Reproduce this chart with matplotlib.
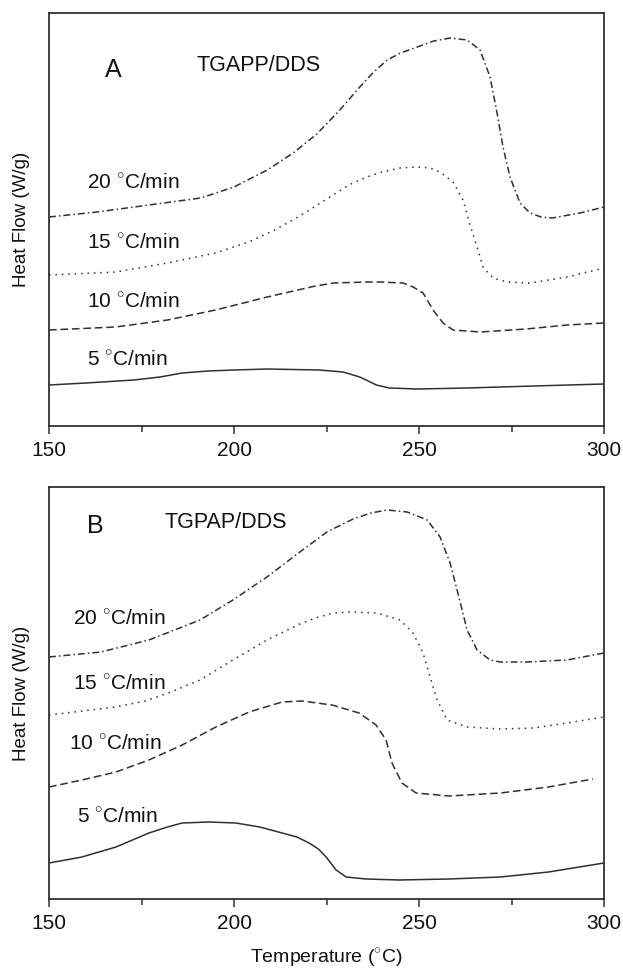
import matplotlib.pyplot as plt

plt.rcParams['font.family'] = ['Liberation Sans', 'DejaVu Sans']
plt.rcParams['mathtext.fontset'] = 'custom'
plt.rcParams['mathtext.rm'] = 'Liberation Sans'

# ---- panel A : TGAPP/DDS  (heat flow in arbitrary units)
a20_T = [150, 163, 177, 191, 200, 209, 216, 222.4, 228.6, 234, 237.5, 241.4, 245, 249.5, 254, 258.4, 263, 266.5, 269.2, 271.1, 272.7, 274.6, 277.3, 280, 283, 286, 293.5, 300]
a20_H = [209, 214, 221, 228, 239, 256, 273, 292, 316, 339, 353, 366, 373, 379, 385, 388, 386, 376, 349, 313, 279, 249, 223, 213, 209, 208, 213, 219]

a15_T = [150, 168, 182, 195, 204, 211, 217.8, 226.8, 231, 235.9, 240, 244.9, 249.5, 253, 255.7, 259.2, 261.9, 263.8, 265.7, 267.3, 270, 273.8, 280, 290, 300]
a15_H = [151, 154, 163, 173, 184, 196, 210, 231, 241, 249, 254, 258, 259, 258, 254, 244, 226, 201, 179, 159, 148, 144, 143, 149, 158]

a10_T = [150, 168, 182, 195, 209, 222, 227, 236, 239.5, 245.7, 248.4, 251.1, 253.8, 256.5, 259.2, 266.5, 279, 290, 300]
a10_H = [96, 99, 106, 116, 129, 140, 143, 144, 144, 143, 139, 133, 116, 103, 96, 94, 97, 101, 103]

a5_T = [150, 160, 173, 180, 186, 193, 200, 209, 223, 229.5, 234, 238.5, 242, 249.5, 263, 281, 300]
a5_H = [41, 43, 46, 49, 53, 55, 56, 57, 56, 54, 49, 41, 38, 37, 38, 40, 42]

# ---- panel B : TGPAP/DDS
b20_T = [150, 164, 177, 190.8, 199.7, 208.9, 217.8, 225.1, 232.2, 237, 241.4, 246.8, 252.2, 255.7, 258.4, 260.3, 263, 265.7, 269.2, 272, 279, 290, 300]
b20_H = [242, 247, 259, 279, 299, 322, 347, 367, 380, 386, 389, 387, 379, 362, 336, 309, 269, 249, 239, 237, 237, 239, 246]

b15_T = [150, 168, 176, 183, 190.8, 199.7, 208.9, 217.8, 222, 226.8, 231.4, 238.6, 244.9, 248.4, 251.1, 253, 254.9, 257.6, 263, 272, 281, 290, 300]
b15_H = [184, 192, 198, 207, 219, 239, 259, 275, 281, 286, 287, 286, 279, 266, 246, 222, 199, 179, 172, 170, 171, 176, 182]

b10_T = [150, 158.9, 168.1, 177, 186, 195.1, 204.1, 213, 218.4, 226.5, 233.8, 238.4, 241.1, 242.7, 245.4, 249.2, 258.1, 272, 285, 297]
b10_H = [112, 119, 127, 139, 154, 172, 187, 197, 198, 194, 186, 174, 159, 136, 116, 106, 103, 106, 112, 120]

b5_T = [150, 158.9, 168.1, 177, 182, 186, 193.2, 200.5, 207, 213, 217, 220.3, 222.8, 224.9, 227.6, 230.3, 235.7, 244.6, 258.1, 272, 285, 300]
b5_H = [36, 42, 52, 66, 72, 76, 77, 76, 72, 66, 62, 56, 50, 42, 29, 22, 20, 19, 20, 22, 27, 36]

rate_labels = ['20 $^{\\circ}$C/min', '15 $^{\\circ}$C/min', '10 $^{\\circ}$C/min', '5 $^{\\circ}$C/min']

col = '#303030'
txt = '#111111'
styles = [(0, (4.5, 2, 1, 2)), (0, (1, 3.2)), (0, (5, 2.5)), 'solid']

fig = plt.figure(figsize=(6.23, 9.73), dpi=100)
axA = fig.add_axes([49/623, 1-426/973, 555/623, 413/973])
axB = fig.add_axes([49/623, 1-899/973, 555/623, 412/973])


def style_axis(ax, ytop):
    ax.set_xlim(150, 300)
    ax.set_ylim(0, ytop)
    ax.set_xticks([150, 200, 250, 300])
    ax.set_xticks([175, 225, 275], minor=True)
    ax.set_yticks([])
    ax.tick_params(axis='x', which='major', direction='out', length=6, width=1.1,
                   colors=col, labelcolor=txt, labelsize=15, pad=5)
    ax.tick_params(axis='x', which='minor', direction='out', length=4, width=1.1, colors=col)
    for s in ax.spines.values():
        s.set_linewidth(1.3)
        s.set_color(col)
    ax.set_ylabel('Heat Flow (W/g)', fontsize=13.5, color=txt, labelpad=14)


seriesA = [(a20_T, a20_H), (a15_T, a15_H), (a10_T, a10_H), (a5_T, a5_H)]
seriesB = [(b20_T, b20_H), (b15_T, b15_H), (b10_T, b10_H), (b5_T, b5_H)]

for (t, h), ls in zip(seriesA, styles):
    axA.plot(t, h, color=col, lw=1.1, ls=ls, solid_joinstyle='round', dash_joinstyle='round')
for (t, h), ls in zip(seriesB, styles):
    axB.plot(t, h, color=col, lw=1.1, ls=ls, solid_joinstyle='round', dash_joinstyle='round')

style_axis(axA, 413)
style_axis(axB, 412)

# labels (positions in axes fraction)
axA.text(0.115, 0.862, 'A', fontsize=18, color=txt, ha='center', va='center', transform=axA.transAxes)
axA.text(0.266, 0.874, 'TGAPP/DDS', fontsize=15.5, color=txt, ha='left', va='center', transform=axA.transAxes)
for yy, lab in zip([0.588, 0.443, 0.300, 0.160], rate_labels):
    axA.text(0.069, yy, lab, fontsize=15, color=txt, ha='left', va='center', transform=axA.transAxes)

axB.text(0.083, 0.905, 'B', fontsize=18, color=txt, ha='center', va='center', transform=axB.transAxes)
axB.text(0.209, 0.913, 'TGPAP/DDS', fontsize=15.5, color=txt, ha='left', va='center', transform=axB.transAxes)
for (xx, yy), lab in zip([(0.043, 0.680), (0.043, 0.522), (0.036, 0.376), (0.050, 0.199)], rate_labels):
    axB.text(xx, yy, lab, fontsize=15, color=txt, ha='left', va='center', transform=axB.transAxes)

axB.set_xlabel('Temperature ($^{\\circ}$C)', fontsize=14, color=txt, labelpad=9)

fig.savefig('out.png', dpi=100)
